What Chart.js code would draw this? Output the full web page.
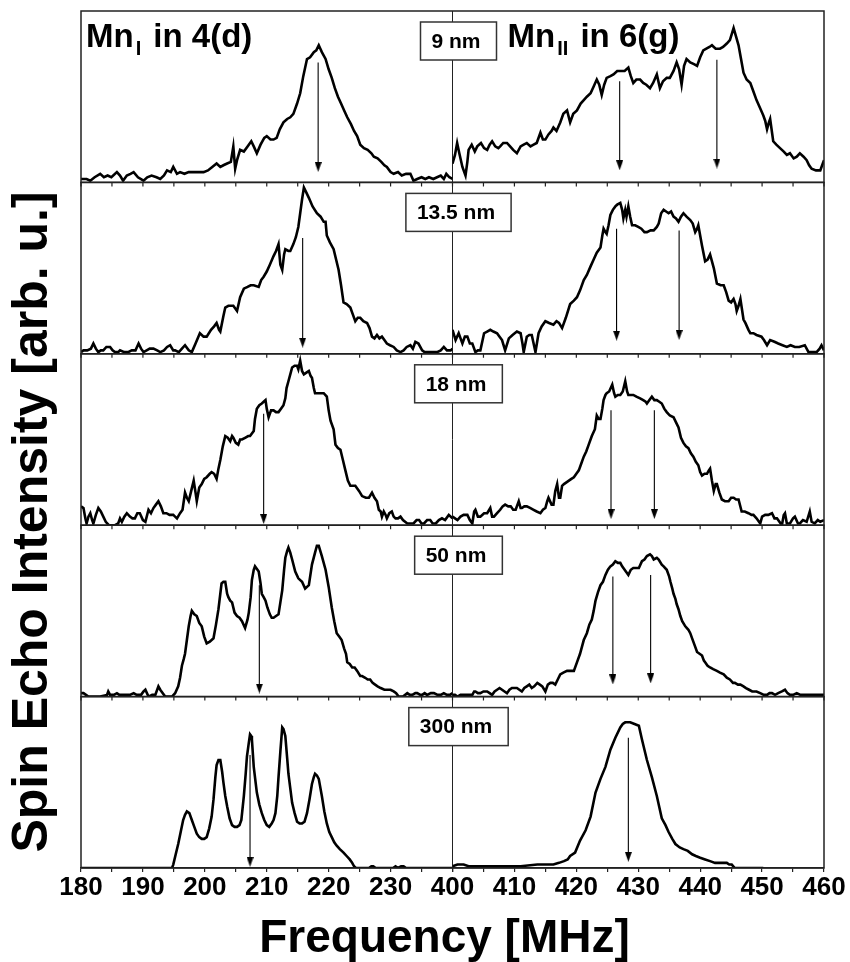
<!DOCTYPE html>
<html>
<head>
<meta charset="utf-8">
<script src="https://cdn.jsdelivr.net/npm/chart.js@4/dist/chart.umd.min.js"></script>
<style>
  html, body { margin: 0; padding: 0; background: #fff; }
</style>
</head>
<body>
<canvas id="echoChart" width="850" height="962"></canvas>
<script>
"use strict";

// panel labels, top to bottom
const thickness = ['9 nm', '13.5 nm', '18 nm', '50 nm', '300 nm'];

// labelled ticks of the two halves of the broken axis
const ticks4d = [180, 190, 200, 210, 220, 230];
const ticks6g = [400, 410, 420, 430, 440, 450, 460];

// ---- 9 nm ----
const freq4d_9nm = [180.0,180.9,181.5,182.2,183.1,183.7,184.3,184.9,185.8,186.3,186.8,187.4,188.0,188.5,189.2,190.1,190.7,191.4,192.2,192.8,193.4,193.9,194.5,194.9,195.5,196.0,196.7,197.4,198.2,198.9,199.8,200.5,201.2,201.9,202.5,203.0,203.6,204.2,204.6,204.9,205.2,205.7,206.3,206.9,207.5,207.9,208.4,209.0,209.6,210.0,210.6,211.1,211.6,212.1,212.7,213.3,213.8,214.3,214.9,215.4,215.9,216.5,217.0,217.6,218.0,218.4,218.9,219.5,220.0,220.5,221.0,221.5,222.0,222.5,223.0,223.6,224.1,224.6,225.1,225.7,226.3,226.9,227.3,227.9,228.5,229.0,229.4,230.0,230.5,231.2,231.8,232.5,233.2,233.7,234.3,235.0,235.6,236.2,236.9,237.5,238.1,238.6,239.0,239.5,240.0];
const amp4d_9nm  = [2,2,1,3,5,3,4,3,6,4,1,4,5,6,3,1,3,4,3,2,4,7,6,9,5,6,5,6,6,6,6,7,9,11,9,10,11,12,21,8,13,19,18,21,24,21,17,22,26,27,25,25,26,31,35,37,38,40,46,52,62,72,73,76,77,80,76,72,66,61,55,50,46,42,38,34,30,27,22,20,19,17,15,14,12,10,9,6,5,6,4,5,5,1,2,3,2,3,2,3,4,2,5,3,2];
const freq6g_9nm = [400.0,400.4,400.75,401.1,401.6,402.1,402.4,402.6,403.1,403.6,404.0,404.6,405.1,405.6,406.0,406.4,406.9,407.4,407.7,408.2,408.8,409.3,409.8,410.4,411.0,411.5,412.0,412.6,413.1,413.6,414.2,414.6,415.0,415.5,416.0,416.3,416.8,417.4,417.9,418.5,419.0,419.5,420.1,420.7,421.2,421.7,422.3,422.8,423.3,423.7,424.1,424.5,424.9,425.5,426.0,426.6,427.2,427.8,428.4,428.8,429.2,429.7,430.3,430.8,431.3,431.9,432.4,433.0,433.5,434.0,434.6,435.1,435.7,436.2,436.6,437.0,437.4,437.8,438.4,439.0,439.5,440.0,440.5,441.0,441.5,441.9,442.5,443.2,443.7,444.3,444.8,445.4,445.8,446.2,446.6,447.0,447.5,448.1,448.6,449.1,449.6,450.2,450.5,450.8,451.1,451.3,451.8,452.3,452.9,453.5,454.0,454.5,455.1,455.6,456.1,456.7,457.2,457.6,458.0,458.7,459.4,459.7,460.0];
const amp6g_9nm  = [11,16,23,17,9,4,12,19,22,18,21,23,20,19,22,24,21,20,21,23,23,21,19,17,21,22,23,21,22,23,29,25,25,28,30,32,30,35,40,42,35,40,42,46,48,50,52,56,60,57,51,57,61,62,63,65,65,65,67,62,58,60,60,58,57,55,58,63,55,59,61,61,65,70,66,57,68,72,70,69,68,73,77,78,79,80,78,78,79,81,83,90,85,80,72,64,60,58,53,48,44,39,36,31,35,37,24,22,20,18,16,17,14,15,17,15,13,10,8,7,7,10,13];

// ---- 13.5 nm ----
const freq4d_13nm = [180.0,180.4,181.0,181.6,182.0,182.4,182.8,183.2,183.6,184.1,184.7,185.1,185.5,186.0,186.3,187.0,187.6,188.2,188.8,189.3,189.7,190.1,190.6,191.1,191.7,192.3,192.8,193.4,193.9,194.4,194.9,195.2,195.8,196.3,196.8,197.4,197.9,198.5,199.2,199.8,200.3,201.0,201.5,201.9,202.3,202.5,203.0,203.3,203.8,204.3,204.6,205.2,205.7,206.3,206.9,207.4,207.9,208.7,209.1,209.5,210.0,210.5,211.1,211.5,211.9,212.2,212.5,212.8,213.0,213.5,213.8,214.3,214.7,215.1,215.4,215.7,216.0,216.4,216.8,217.4,218.1,218.7,219.2,219.5,219.7,220.2,220.8,221.2,221.6,222.0,222.4,222.9,223.5,223.9,224.3,224.7,225.1,225.6,226.2,226.6,227.0,227.4,227.8,228.2,228.6,229.0,229.4,229.9,230.5,231.0,231.6,232.1,232.6,233.2,233.6,234.0,234.5,235.1,235.5,235.9,236.5,237.1,237.5,238.1,238.6,239.1,239.7,240.0];
const amp4d_13nm  = [1,2,2,3,6,3,1,2,2,4,4,2,1,1,2,1,1,2,2,6,3,1,2,3,3,2,1,2,4,5,2,2,1,3,5,2,1,6,12,10,10,14,16,18,14,13,22,27,28,28,28,25,33,38,39,40,40,39,43,45,48,52,57,60,64,52,49,58,61,60,60,64,68,74,82,90,97,94,91,86,82,80,77,77,69,65,61,55,49,40,30,29,27,23,19,21,21,19,18,15,10,9,11,9,10,8,6,5,4,2,1,2,4,5,3,7,6,2,1,1,1,1,1,2,4,2,2,3];
const freq6g_13nm = [400.0,400.5,401.0,401.3,401.6,402.0,402.4,402.8,403.2,403.7,404.1,404.5,405.1,405.6,406.1,406.6,407.2,407.6,408.0,408.5,409.1,409.7,410.4,411.0,411.3,411.5,412.0,412.4,412.8,413.1,413.4,413.9,414.4,415.0,415.6,416.3,416.8,417.2,417.7,418.3,419.0,419.6,420.1,420.6,421.2,421.7,422.3,422.8,423.3,423.9,424.2,424.4,424.7,424.9,425.2,425.5,425.9,426.3,426.6,427.1,427.4,427.6,427.9,428.1,428.4,428.7,429.0,429.5,430.0,430.5,431.0,431.4,432.0,432.5,433.0,433.3,433.7,434.1,434.5,434.9,435.3,435.7,436.1,436.5,436.9,437.3,437.8,438.4,438.8,439.2,439.5,439.7,440.3,440.8,441.2,441.6,442.2,442.7,443.3,443.8,444.2,444.6,445.0,445.4,445.7,445.9,446.2,446.5,447.0,447.3,447.8,448.1,448.6,449.1,449.9,450.3,450.8,451.3,452.0,452.6,453.3,454.0,454.6,455.3,456.0,456.9,457.5,458.2,458.8,459.3,459.6,460.0];
const amp6g_13nm  = [14,8,12,9,6,10,10,6,6,1,2,2,12,13,14,13,12,10,8,2,9,11,13,12,6,1,10,11,11,6,1,12,16,19,18,17,19,18,15,21,29,31,33,37,43,46,51,55,59,62,69,73,71,70,75,81,84,86,87,88,84,79,84,80,86,80,75,75,74,73,71,71,72,72,74,76,82,84,83,82,83,80,79,77,80,82,80,78,76,71,73,75,63,54,55,58,50,41,40,40,36,31,30,32,29,25,28,32,20,18,14,12,12,11,10,8,5,8,7,6,5,4,5,4,4,5,1,1,1,3,5,2];

// ---- 18 nm ----
const freq4d_18nm = [180.0,180.4,180.7,180.9,181.2,181.5,181.8,182.0,182.4,182.8,183.2,183.6,184.0,184.5,185.5,186.0,186.3,186.6,187.0,187.4,187.9,188.3,188.7,189.1,189.5,190.0,190.4,190.9,191.3,191.7,192.1,192.5,192.9,193.3,193.8,194.3,194.9,195.2,195.5,196.0,196.4,196.8,197.1,197.4,197.8,198.2,198.5,198.7,199.1,199.5,199.9,200.3,200.8,201.1,201.5,201.9,202.2,202.5,202.9,203.3,203.7,204.1,204.4,204.6,205.0,205.4,205.7,206.0,206.5,207.0,207.3,207.9,208.1,208.4,208.8,209.2,209.5,209.8,210.0,210.3,210.7,211.1,211.5,211.9,212.3,212.7,213.0,213.2,213.5,213.8,214.1,214.5,214.9,215.1,215.4,215.7,216.0,216.4,216.8,217.1,217.3,217.6,217.8,218.5,219.2,219.7,220.0,220.3,220.8,221.1,221.5,221.9,222.3,222.7,223.1,223.5,224.0,224.3,224.9,225.4,226.0,226.5,227.0,227.4,227.8,228.1,228.4,228.6,228.9,229.2,229.4,229.8,230.2,230.5,230.8,231.2,231.6,232.0,232.7,233.2,233.7,234.2,234.6,235.0,235.4,235.9,236.4,236.8,237.3,237.8,238.3,238.8,239.4,240.0];
const amp4d_18nm  = [11,10,4,1,5,7,3,1,6,10,8,5,2,0,0,1,4,2,5,7,5,4,4,7,7,3,2,9,7,10,12,14,11,7,7,6,6,5,4,7,9,19,16,14,20,26,19,14,22,24,27,28,30,31,30,27,33,38,46,52,51,49,52,51,48,47,50,50,51,52,52,55,62,68,70,71,72,73,68,63,67,67,66,66,68,70,74,80,84,88,92,93,93,91,96,90,88,89,90,87,86,80,77,77,77,75,67,61,56,47,45,44,38,32,26,23,23,23,20,17,16,16,19,16,14,9,8,5,8,6,4,7,8,5,4,4,5,3,1,1,1,3,3,1,1,3,3,1,1,3,4,3,6,4];
const freq6g_18nm = [400.0,400.4,400.8,401.3,401.8,402.4,402.8,403.2,403.5,403.7,404.1,404.5,405.1,405.6,406.1,406.4,406.7,407.2,407.7,408.1,408.5,409.0,409.4,409.8,410.2,410.7,411.0,411.2,411.6,412.0,412.6,413.1,413.6,414.2,414.6,415.0,415.3,415.5,416.0,416.3,416.6,416.9,417.2,417.4,417.7,418.0,418.4,418.8,419.2,419.6,420.0,420.4,420.8,421.2,421.6,422.0,422.5,423.0,423.3,423.6,423.9,424.2,424.4,424.7,424.9,425.3,425.8,426.1,426.3,426.7,427.1,427.5,427.9,428.2,428.4,428.8,429.2,429.7,430.3,430.8,431.2,431.4,431.8,432.2,432.6,433.0,433.4,433.8,434.2,434.6,435.1,435.7,436.1,436.5,436.9,437.3,437.7,438.1,438.5,438.9,439.3,439.7,440.0,440.3,440.7,441.1,441.4,441.6,441.9,442.2,442.5,442.7,443.1,443.5,444.0,444.6,445.0,445.4,445.8,446.2,446.7,447.2,447.8,448.3,448.6,449.1,449.5,449.7,450.0,450.5,451.0,451.6,452.0,452.4,452.8,453.2,453.5,453.7,454.0,454.5,455.0,455.3,455.8,456.1,456.6,457.2,457.7,458.0,458.5,459.0,459.4,460.0];
const amp6g_18nm  = [5,4,3,5,6,6,3,1,8,9,5,5,7,7,10,5,5,7,9,11,12,11,11,9,9,14,10,10,11,11,10,9,8,7,9,10,14,16,12,12,20,24,16,16,23,24,25,26,27,28,30,32,36,40,43,47,52,56,64,62,62,68,73,76,77,78,82,77,75,76,76,78,84,78,76,76,76,75,74,73,72,71,73,75,73,73,72,71,68,66,64,63,60,57,51,48,46,45,42,40,37,35,31,29,30,30,32,33,26,20,24,24,19,15,14,14,16,16,15,15,8,8,7,6,6,4,2,1,5,6,6,7,4,4,2,0,6,7,1,1,4,5,1,1,3,2,8,2,1,3,2,3];

// ---- 50 nm ----
const freq4d_50nm = [180.0,180.4,180.8,181.2,182.0,183.1,184.2,184.4,184.7,185.3,185.8,186.2,186.6,187.2,187.9,188.5,189.0,189.7,190.1,190.4,190.9,191.5,192.0,192.5,192.8,193.0,193.6,194.2,194.7,195.2,195.7,196.0,196.3,196.6,196.8,197.1,197.4,197.7,197.9,198.3,198.7,199.1,199.5,199.9,200.3,200.8,201.4,201.8,202.2,202.5,202.7,203.0,203.3,203.6,203.8,204.1,204.4,204.8,205.2,205.6,206.0,206.5,206.9,207.1,207.4,207.6,207.9,208.1,208.5,208.7,209.0,209.2,209.5,209.8,210.1,210.5,210.8,211.1,211.5,211.9,212.2,212.5,212.8,213.0,213.3,213.5,213.8,214.1,214.6,215.1,215.7,216.2,216.8,217.3,217.8,218.1,218.4,218.9,219.5,220.0,220.5,220.9,221.3,221.7,222.1,222.5,222.8,223.0,223.4,223.8,224.2,224.6,225.1,225.4,225.9,226.3,226.7,227.1,227.5,227.9,228.4,229.0,229.6,230.0,230.5,230.9,231.3,232.0,232.7,233.1,233.5,234.0,234.3,234.8,235.1,235.5,235.9,236.5,237.0,237.6,238.1,238.6,239.1,239.6,240.0];
const amp4d_50nm  = [2,2,1,0,0,0,1,3,1,1,2,1,1,1,1,2,1,1,3,4,0,1,1,6,4,3,0,0,0,2,6,11,18,22,25,33,41,47,50,48,47,43,41,35,31,32,34,42,51,60,66,67,67,60,58,56,55,49,47,46,44,40,45,49,58,68,74,76,74,73,66,60,58,56,52,48,46,46,47,48,55,62,74,81,85,87,84,80,73,69,67,63,65,77,84,88,88,82,74,64,52,44,37,35,33,28,25,20,19,17,17,15,12,12,11,10,10,8,7,6,5,4,4,4,3,2,0,0,2,1,1,2,2,1,1,2,1,2,2,1,1,2,1,1,2];
const freq6g_50nm = [400.0,400.4,400.8,401.3,401.8,402.5,403.2,403.5,403.7,404.1,404.5,405.0,405.6,406.0,406.4,406.8,407.2,407.6,408.0,408.4,408.8,409.2,409.6,410.0,410.4,410.8,411.2,411.6,412.0,412.4,412.8,413.2,413.7,414.1,414.5,415.0,415.4,415.8,416.2,416.6,417.0,417.4,417.9,418.5,419.0,419.6,420.1,420.6,421.2,421.7,422.1,422.5,422.8,423.1,423.5,423.9,424.3,424.7,425.1,425.5,425.9,426.3,426.7,427.1,427.4,427.6,428.0,428.4,428.8,429.2,429.7,430.1,430.6,431.0,431.4,431.9,432.2,432.5,433.0,433.3,433.8,434.1,434.6,435.0,435.2,435.5,435.7,436.0,436.2,436.5,436.8,437.1,437.6,438.1,438.4,438.7,439.1,439.5,439.9,440.3,440.6,440.8,441.2,441.6,442.1,442.7,443.2,443.8,444.3,444.8,445.3,445.6,446.1,446.5,447.0,447.4,447.9,448.4,449.1,449.7,450.3,450.8,451.2,451.6,452.1,452.6,453.2,453.7,454.1,454.5,455.0,455.6,456.2,456.7,457.3,458.0,459.0,460.0];
const amp6g_50nm  = [1,1,0,1,1,1,1,3,3,2,2,3,3,2,1,3,4,5,4,3,2,4,5,5,5,4,3,5,6,7,5,6,8,7,6,3,7,8,8,7,10,13,14,15,15,15,20,25,33,37,42,45,50,56,61,65,67,71,74,76,77,79,78,78,76,75,73,71,74,75,75,75,79,80,82,83,82,80,81,80,77,76,74,70,67,63,60,57,54,51,47,44,41,39,37,34,30,26,25,24,21,20,18,17,16,15,14,13,11,10,8,8,7,7,6,5,4,3,3,2,1,1,2,2,1,2,3,4,2,1,1,2,1,1,1,1,1,1];

// ---- 300 nm ----
const freq4d_300nm = [180.0,194.7,194.9,195.3,195.7,196.1,196.5,196.8,197.1,197.5,197.9,198.3,198.7,199.1,199.5,199.9,200.3,200.7,201.1,201.4,201.7,201.9,202.2,202.5,202.8,203.0,203.3,203.6,204.0,204.4,204.8,205.2,205.6,205.9,206.3,206.6,206.8,207.1,207.3,207.5,207.6,207.9,208.2,208.4,208.8,209.2,209.6,210.0,210.4,210.8,211.1,211.4,211.7,211.9,212.2,212.5,212.7,213.0,213.3,213.5,214.1,214.5,214.9,215.3,215.7,216.1,216.5,216.9,217.3,217.6,217.8,218.1,218.4,218.9,219.3,219.7,220.1,220.5,220.9,221.3,221.8,222.4,222.9,223.4,223.8,224.1,224.4,226.5,226.9,227.2,227.6,230.4,230.8,231.2,231.7,232.1,232.5,240.0];
const amp4d_300nm  = [0,0,2,8,14,21,28,31,33,32,28,24,20,18,17,17,18,23,30,40,53,60,63,63,56,50,42,36,29,25,24,24,25,28,42,55,65,73,78,77,75,59,50,44,37,32,28,25,24,26,28,32,42,53,68,82,81,77,64,55,38,32,27,26,26,27,32,40,49,53,55,54,52,42,33,26,21,18,15,13,11,9,7,5,3,1,0,0,1,1,0,0,1,0,1,1,0,0];
const freq6g_300nm = [400.0,400.8,401.8,402.6,404.0,405.6,406.7,408.8,411.0,413.7,415.0,416.3,417.2,418.0,418.6,419.0,419.8,420.6,421.5,422.3,423.1,423.9,424.7,425.5,426.3,427.1,427.5,427.9,428.7,429.4,430.1,430.6,431.4,432.2,433.0,433.8,434.4,434.9,435.5,436.0,436.7,437.3,438.0,438.7,439.3,440.0,440.8,441.6,442.4,443.2,444.3,444.7,445.1,445.6,447.5,450.2];
const amp6g_300nm  = [1,2,2,1,1,1,1,1,1,2,2,2,3,4,5,7,9,16,22,30,44,52,59,69,76,82,84,85,85,84,83,75,63,53,42,29,25,21,17,14,12,11,10,8,7,6,5,4,3,3,3,2,2,0,0,0];

// arrows: frequency, start and end intensity (arrow head at the end)
const arrowFreq4d = [218.3, 215.8, 209.5, 208.8, 207.3];
const arrowTop4d  = [70, 67.6, 65, 65, 66];
const arrowEnd4d  = [9, 6.5, 3.6, 4.7, 3.6];
const arrowFreq6g = [[427.0, 442.7], [426.5, 436.6], [425.6, 432.6], [425.9, 432.0], [428.4]];
const arrowTop6g  = [[59, 71.5], [73, 72], [67, 67], [70, 71], [76]];
const arrowEnd6g  = [[10, 11], [10.6, 11], [6.5, 6.5], [10, 10.6], [6.5]];

const spectra = [
    [freq4d_9nm, amp4d_9nm, freq6g_9nm, amp6g_9nm],
    [freq4d_13nm, amp4d_13nm, freq6g_13nm, amp6g_13nm],
    [freq4d_18nm, amp4d_18nm, freq6g_18nm, amp6g_18nm],
    [freq4d_50nm, amp4d_50nm, freq6g_50nm, amp6g_50nm],
    [freq4d_300nm, amp4d_300nm, freq6g_300nm, amp6g_300nm]
];

const FONT = '"Liberation Sans", Arial, sans-serif';
Chart.defaults.font.family = FONT;
Chart.defaults.color = '#000';

// small downward arrow head used as point style
const head = document.createElement('canvas');
head.width = 7; head.height = 10;
(function () {
    const c = head.getContext('2d');
    c.fillStyle = '#000';
    c.beginPath();
    c.moveTo(0, 0); c.lineTo(7, 0); c.lineTo(3.5, 10);
    c.closePath();
    c.fill();
})();

function pairs(fs, vs) {
    return fs.map((f, k) => ({ x: f, y: vs[k] }));
}

function curve(fs, vs, xId, yId) {
    return {
        data: pairs(fs, vs), xAxisID: xId, yAxisID: yId,
        borderColor: '#000', borderWidth: 2.6, pointRadius: 0, tension: 0
    };
}

function arrow(f, top, end, xId, yId) {
    return {
        data: [{ x: f, y: top }, { x: f, y: end }], xAxisID: xId, yAxisID: yId,
        borderColor: '#000', borderWidth: 1.1,
        pointRadius: [0, 5], pointStyle: head, tension: 0
    };
}

const datasets = [];
spectra.forEach((s, i) => {
    const yId = 'y' + i;
    datasets.push(curve(s[0], s[1], 'xl', yId));
    datasets.push(curve(s[2], s[3], 'xr', yId));
    datasets.push(arrow(arrowFreq4d[i], arrowTop4d[i], arrowEnd4d[i], 'xl', yId));
    arrowFreq6g[i].forEach((f, k) => {
        datasets.push(arrow(f, arrowTop6g[i][k], arrowEnd6g[i][k], 'xr', yId));
    });
});

function xAxis(min, max, labelled, order) {
    return {
        type: 'linear', position: 'bottom', stack: 'freq', stackWeight: 1, weight: order,
        min: min, max: max,
        ticks: {
            stepSize: 5, autoSkip: false, maxRotation: 0, padding: 0, color: '#000',
            font: { size: 26, weight: 'bold' },
            callback: v => labelled.includes(Math.round(v)) ? String(Math.round(v)) : ''
        },
        grid: { drawOnChartArea: false, drawTicks: true, tickLength: 4, color: '#222', lineWidth: 1.2 },
        border: { display: true, color: '#222', width: 1.5 },
        afterFit: s => { s.height = 94; }
    };
}

const scales = { xl: xAxis(180, 240, ticks4d, 1), xr: xAxis(400, 460, ticks6g, 2) };
thickness.forEach((t, i) => {
    scales['y' + i] = {
        type: 'linear', position: 'left', stack: 'panels', stackWeight: 1, weight: 5 - i,
        min: 0, max: 100, display: false
    };
});

// frames, divider, inner ticks, labels and axis titles
const panelDecor = {
    id: 'panelDecor',
    beforeDatasetsDraw(chart) {
        const { ctx, chartArea: a, scales: sc } = chart;
        const xDiv = sc.xr.left;
        ctx.save();
        ctx.strokeStyle = '#222';
        ctx.lineWidth = 1;
        ctx.beginPath();
        ctx.moveTo(xDiv, a.top);
        ctx.lineTo(xDiv, a.bottom);
        ctx.stroke();
        ctx.restore();
    },
    afterDatasetsDraw(chart) {
        const { ctx, chartArea: a, scales: sc } = chart;
        const xDiv = sc.xr.left;
        ctx.save();
        ctx.strokeStyle = '#222';

        thickness.forEach((t, i) => {
            const ys = sc['y' + i];
            ctx.lineWidth = 1.5;
            ctx.strokeRect(a.left, ys.top, a.right - a.left, ys.bottom - ys.top);

            // outward ticks under each panel except the last (drawn by the axes)
            if (i < thickness.length - 1) {
                ctx.lineWidth = 1.2;
                ctx.beginPath();
                [sc.xl, sc.xr].forEach(xs => {
                    xs.ticks.forEach(tk => {
                        const px = xs.getPixelForValue(tk.value);
                        ctx.moveTo(px, ys.bottom);
                        ctx.lineTo(px, ys.bottom + 4);
                    });
                });
                ctx.stroke();
            }

            // thickness box
            ctx.font = 'bold 21px ' + FONT;
            const tw = ctx.measureText(t).width;
            const bw = tw + 27, bh = 38;
            const bx = xDiv + 6 - bw / 2, by = ys.top + 11;
            ctx.fillStyle = '#fff';
            ctx.fillRect(bx, by, bw, bh);
            ctx.lineWidth = 1.5;
            ctx.strokeStyle = '#333';
            ctx.strokeRect(bx, by, bw, bh);
            ctx.fillStyle = '#000';
            ctx.textAlign = 'left';
            ctx.textBaseline = 'middle';
            ctx.fillText(t, bx + 11, by + bh / 2 + 1);
            ctx.strokeStyle = '#222';
        });

        // site labels
        function siteLabel(x, sub, rest) {
            const base = a.top + 36;
            ctx.textAlign = 'left';
            ctx.textBaseline = 'alphabetic';
            ctx.font = 'bold 33px ' + FONT;
            ctx.fillText('Mn', x, base);
            let cx = x + ctx.measureText('Mn').width + 2;
            ctx.font = 'bold 20px ' + FONT;
            ctx.fillText(sub, cx, base + 8);
            cx += ctx.measureText(sub).width + 3;
            ctx.font = 'bold 33px ' + FONT;
            ctx.fillText(rest, cx, base);
        }
        ctx.fillStyle = '#000';
        siteLabel(a.left + 5, 'I', ' in 4(d)');
        siteLabel(xDiv + 55, 'II', ' in 6(g)');

        // axis titles
        ctx.font = 'bold 46px ' + FONT;
        ctx.textAlign = 'center';
        ctx.textBaseline = 'alphabetic';
        ctx.fillText('Frequency [MHz]', (a.left + a.right) / 2 - 8, a.bottom + 84);

        ctx.translate(47, 522);
        ctx.rotate(-Math.PI / 2);
        ctx.font = 'bold 50px ' + FONT;
        ctx.fillText('Spin Echo Intensity [arb. u.]', 0, 0);
        ctx.restore();
    }
};

new Chart(document.getElementById('echoChart'), {
    type: 'line',
    data: { datasets: datasets },
    options: {
        responsive: false,
        animation: false,
        events: [],
        layout: { padding: { left: 81, right: 26, top: 11, bottom: 0 } },
        plugins: { legend: { display: false }, tooltip: { enabled: false } },
        scales: scales
    },
    plugins: [panelDecor]
});
</script>
</body>
</html>
